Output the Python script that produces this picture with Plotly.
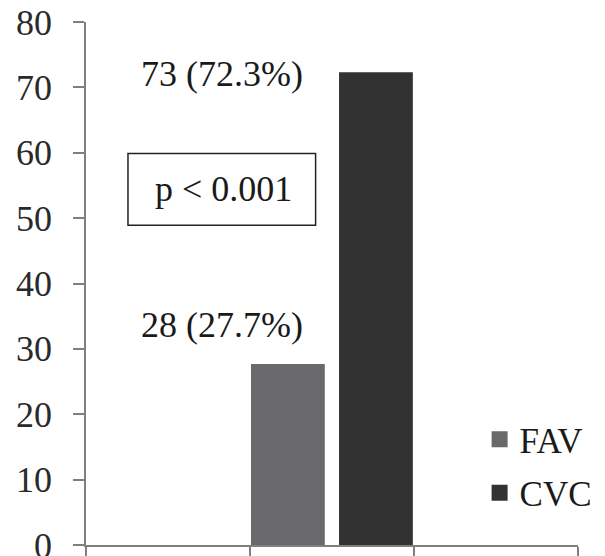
import plotly.graph_objects as go

# Access type counts and percentages
groups = ["FAV", "CVC"]
counts = [28, 73]
percents = [27.7, 72.3]
colors = ["#69696b", "#333232"]

y_ticks = [0, 10, 20, 30, 40, 50, 60, 70, 80]
x_ticks = [0, 1, 2, 3]

SERIF = "Liberation Serif"
TEXT_SIZE = 36

fig = go.Figure()

# bars sit side by side inside the middle category slot
offsets = [0.006, 0.543]
for g, p, c, off in zip(groups, percents, colors, offsets):
    fig.add_trace(go.Bar(
        x=[1], y=[p], width=0.45, offset=off,
        marker=dict(color=c, line=dict(width=0)),
        showlegend=False, name=g,
    ))
    # legend entries with larger square swatches
    fig.add_trace(go.Scatter(
        x=[None], y=[None], mode="markers", name=g, legendgroup=g,
        marker=dict(symbol="square", size=16, color=c),
    ))

# value labels to the left of the bars
label_pos = [(0.83, percents[0], 6.0), (0.83, percents[1], -0.3)]
for n, p, (lx, ly, dy) in zip(counts, percents, label_pos):
    fig.add_annotation(
        x=lx, y=ly + dy, xref="x", yref="y",
        text=f"{n} ({p}%)", showarrow=False,
        font=dict(family=SERIF, size=TEXT_SIZE, color="#1a1a1a"),
    )

# significance box
fig.add_shape(type="rect", xref="x", yref="y",
              x0=0.256, x1=1.40, y0=48.9, y1=59.9,
              line=dict(color="#222222", width=1.5), fillcolor="rgba(0,0,0,0)")
fig.add_annotation(x=0.84, y=54.5, xref="x", yref="y", text="p < 0.001",
                   showarrow=False,
                   font=dict(family=SERIF, size=TEXT_SIZE, color="#1a1a1a"))

fig.update_layout(
    width=605, height=556,
    margin=dict(l=86, r=27, t=22, b=11, autoexpand=False),
    paper_bgcolor="white", plot_bgcolor="white",
    barmode="overlay",
    font=dict(family=SERIF, color="#222222"),
    legend=dict(x=0.8, y=0.258, xanchor="left", yanchor="top",
                font=dict(family=SERIF, size=35, color="#1a1a1a"),
                bgcolor="rgba(0,0,0,0)", itemsizing="trace",
                tracegroupgap=5),
    xaxis=dict(range=[0, 3], tickvals=x_ticks, showticklabels=False,
               ticks="outside", ticklen=9, tickcolor="#808080", tickwidth=1.5,
               showline=True, linecolor="#808080", linewidth=1.5,
               showgrid=False, zeroline=False, fixedrange=True,
               automargin=False),
    yaxis=dict(range=[0, 80], tickvals=y_ticks,
               ticks="outside", ticklen=11, tickcolor="#808080", tickwidth=1.5,
               showline=True, linecolor="#808080", linewidth=1.5,
               showgrid=False, zeroline=False, automargin=False,
               ticklabeloverflow="allow",
               tickfont=dict(family=SERIF, size=TEXT_SIZE, color="#2a2a2a"),
               ticklabelstandoff=14),
)

fig.write_html("out.html")
